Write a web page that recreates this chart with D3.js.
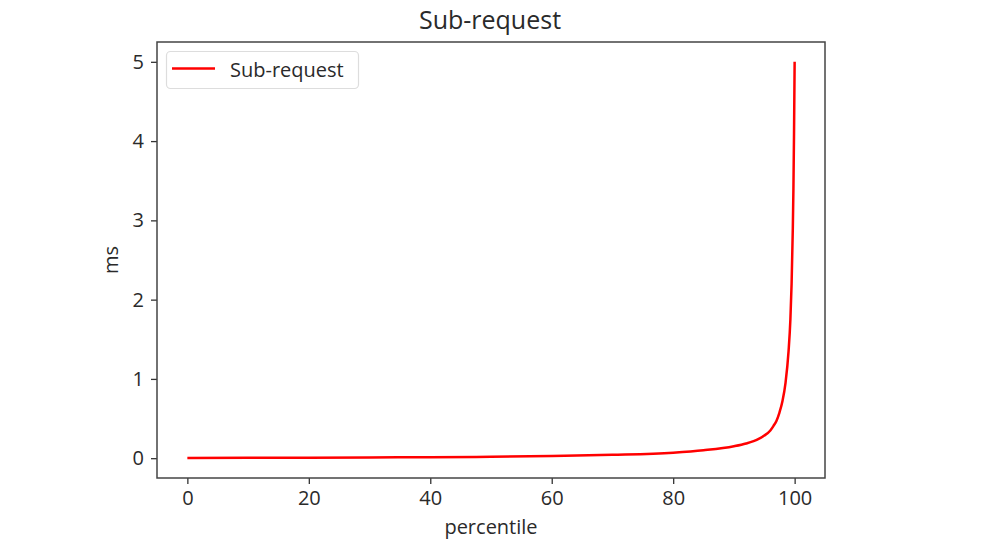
<!DOCTYPE html>
<html><head><meta charset="utf-8">
<script src="https://cdn.jsdelivr.net/npm/d3@7"></script>
<style>html,body{margin:0;padding:0;background:#fff;}svg{display:block;}</style>
</head><body>
<svg id="chart" width="1000" height="556"></svg>
<script>
const title = "Sub-request";
const seriesName = "Sub-request";
const xLabel = "percentile";
const yLabel = "ms";
const percentiles = [0, 10, 20, 30, 40, 50, 60, 70, 80, 85, 90, 92, 94, 95, 96, 96.5, 97, 97.5, 98, 98.5, 99, 99.3, 99.5, 99.7, 99.8, 99.9, 100];
const latencyMs   = [0.003, 0.004, 0.006, 0.009, 0.012, 0.018, 0.028, 0.043, 0.07, 0.1, 0.15, 0.185, 0.24, 0.285, 0.35, 0.405, 0.47, 0.575, 0.72, 0.95, 1.35, 1.75, 2.2, 2.9, 3.4, 4.1, 5.0];
const xTicks = [0, 20, 40, 60, 80, 100];
const yTicks = [0, 1, 2, 3, 4, 5];

const font = "'Open Sans', sans-serif";
const svg = d3.select("#chart");
const L = 157, R = 825, T = 42, B = 478;
const x = d3.scaleLinear().domain([-5, 105]).range([L, R]);
const y = d3.scaleLinear().domain([-0.25, 5.25]).range([B, T]);

const data = percentiles.map((p, i) => ({p, v: latencyMs[i]}));

svg.append("path").datum(data)
  .attr("d", d3.line().x(d => x(d.p)).y(d => y(d.v)).curve(d3.curveMonotoneX))
  .attr("fill", "none").attr("stroke", "#ff0000").attr("stroke-width", 2.5);

const xa = svg.append("g").attr("transform", `translate(0,${B})`)
  .call(d3.axisBottom(x).tickValues(xTicks).tickSize(6).tickPadding(7).tickFormat(d3.format("d")));
const ya = svg.append("g").attr("transform", `translate(${L},0)`)
  .call(d3.axisLeft(y).tickValues(yTicks).tickSize(6).tickPadding(7).tickFormat(d3.format("d")));
[xa, ya].forEach(a => {
  a.select(".domain").remove();
  a.selectAll(".tick line").attr("stroke", "#333").attr("stroke-width", 1.3);
  a.selectAll(".tick text").attr("fill", "#2a2a2a").style("font-family", font).style("font-size", "20px");
});

svg.append("rect").attr("x", L).attr("y", T).attr("width", R - L).attr("height", B - T)
  .attr("fill", "none").attr("stroke", "#444").attr("stroke-width", 1.5);

svg.append("text").attr("x", (L + R) / 2 - 1).attr("y", 29).attr("text-anchor", "middle")
  .style("font-family", font).style("font-size", "25px").attr("fill", "#2a2a2a").text(title);
svg.append("text").attr("x", (L + R) / 2).attr("y", 534).attr("text-anchor", "middle")
  .style("font-family", font).style("font-size", "20px").attr("fill", "#2a2a2a").text(xLabel);
svg.append("text").attr("transform", `translate(118,${(T + B) / 2}) rotate(-90)`).attr("text-anchor", "middle")
  .style("font-family", font).style("font-size", "20px").attr("fill", "#2a2a2a").text(yLabel);

const lg = svg.append("g");
lg.append("rect").attr("x", 166.5).attr("y", 51.5).attr("width", 192).attr("height", 37).attr("rx", 4)
  .attr("fill", "#fff").attr("fill-opacity", 0.8).attr("stroke", "#ddd").attr("stroke-width", 1.2);
lg.append("line").attr("x1", 172).attr("x2", 215).attr("y1", 68.5).attr("y2", 68.5)
  .attr("stroke", "#ff0000").attr("stroke-width", 2.5);
lg.append("text").attr("x", 230).attr("y", 76.5)
  .style("font-family", font).style("font-size", "20px").attr("fill", "#2a2a2a").text(seriesName);
</script>
</body></html>
